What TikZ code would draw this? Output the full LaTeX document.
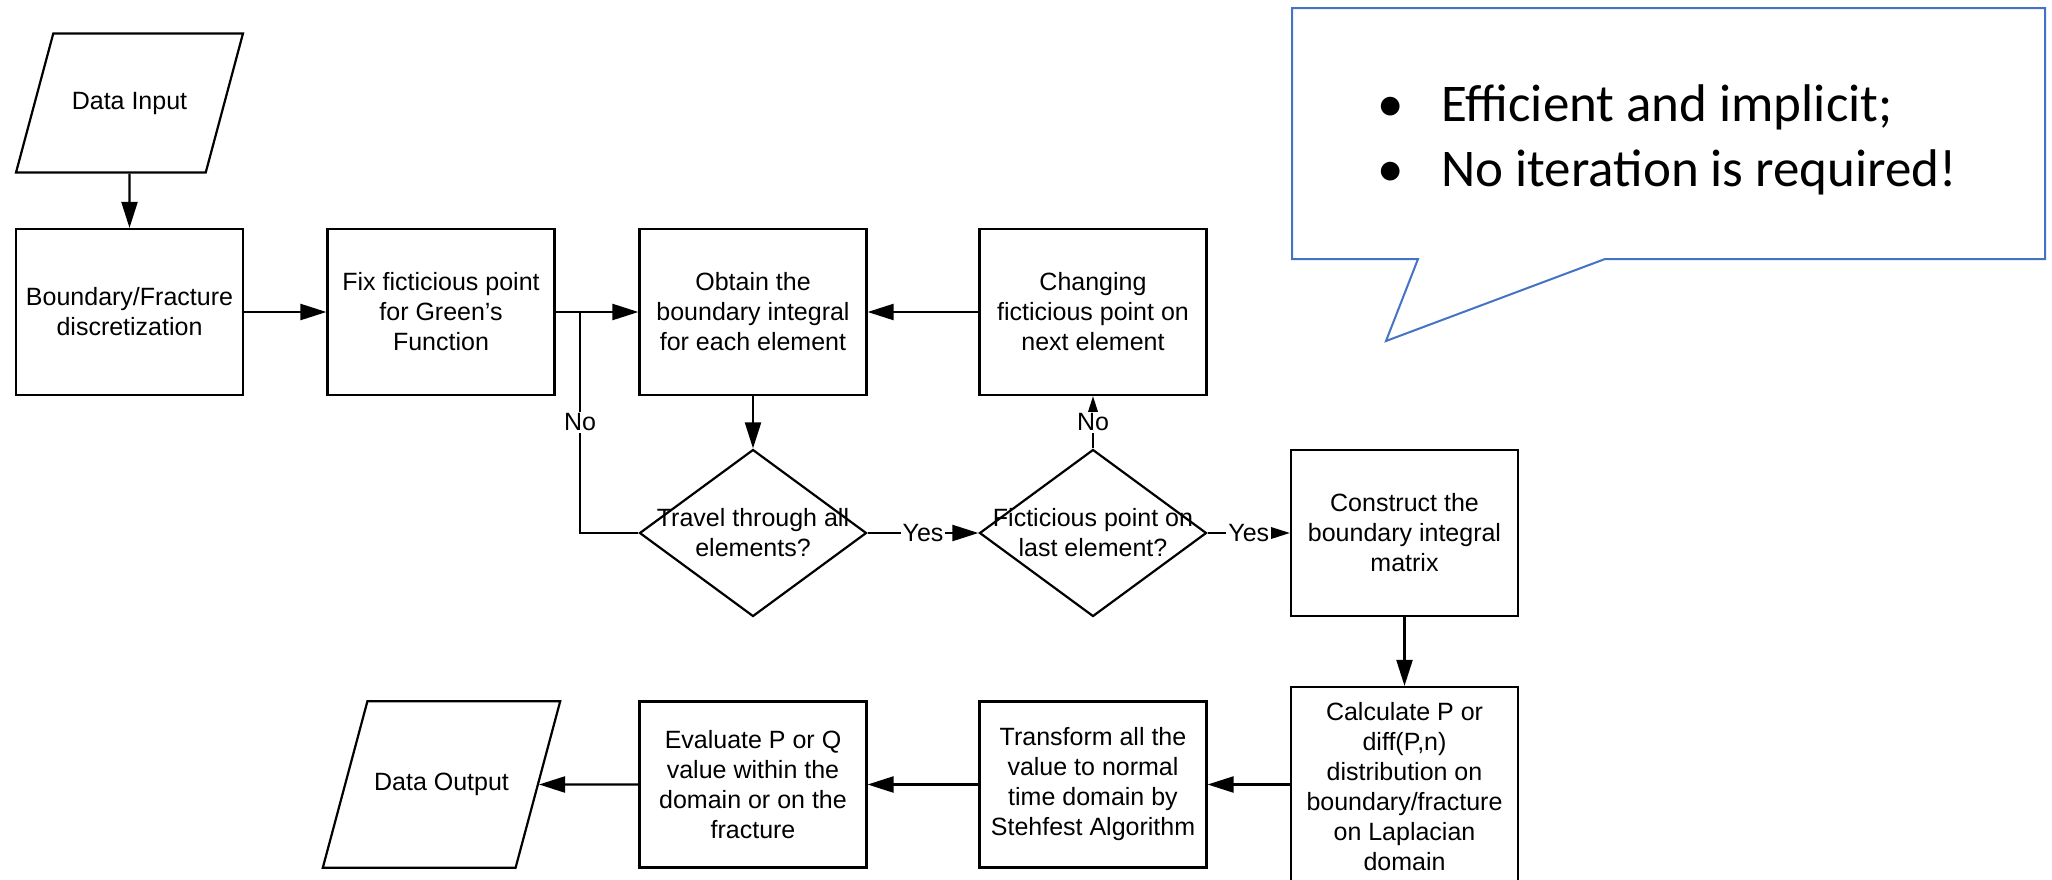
\documentclass[tikz,border=0pt]{standalone}
\usepackage{fontspec}
\setmainfont{Liberation Sans}
\newfontfamily\notefont{Carlito}
\usetikzlibrary{positioning,arrows.meta,shapes.geometric}
\definecolor{noteblue}{RGB}{68,114,196}
\tikzset{
  flowarrow/.style={-{Triangle[length=13pt,width=8pt]}, line width=1.1pt},
  flowline/.style={line width=1.1pt},
  procbox/.style={draw, line width=1.1pt, minimum width=113.5pt, minimum height=83pt, align=center, inner sep=2pt},
  iobox/.style={draw, line width=1.1pt, trapezium, trapezium left angle=75, trapezium right angle=105, trapezium stretches body, minimum width=113.5pt, align=center},
  decision/.style={draw, line width=1.1pt, diamond, minimum width=113.5pt, minimum height=83.5pt, inner sep=0pt},
  answer/.style={fill=white, inner sep=1pt}
}

\begin{document}
\begin{tikzpicture}[x=0.5pt, y=-0.5pt, every node/.style={font=\fontsize{12.5pt}{15pt}\selectfont}]
  \useasboundingbox (0,0) rectangle (2052,879);
  \node[iobox, inner ysep=29.2pt] (datain) at (129.5,103) {Data Input};
  \node[procbox] (discr) at (129.5,312) {Boundary/Fracture\\discretization};
  \node[procbox] (fixpt) at (441,312) {Fix ficticious point\\for Green's\\Function};
  \node[procbox] (obtain) at (753,312) {Obtain the\\boundary integral\\for each element};
  \node[procbox] (change) at (1093,312) {Changing\\ficticious point on\\next element};
  \node[decision] (travel) at (753,533) {};
  \node[align=center] (travel-txt) at (travel) {Travel through all\\elements?};
  \node[decision] (lastq) at (1093,533) {};
  \node[align=center] (lastq-txt) at (lastq) {Ficticious point on\\last element?};
  \node[procbox] (construct) at (1404.5,533) {Construct the\\boundary integral\\matrix};
  \node[procbox, minimum height=100pt] (calc) at (1404.5,787) {Calculate P or\\diff(P,n)\\distribution on\\boundary/fracture\\on Laplacian\\domain};
  \node[procbox] (transform) at (1093,784.5) {Transform all the\\value to normal\\time domain by\\Stehfest Algorithm};
  \node[procbox] (evaluate) at (753,784.5) {Evaluate P or Q\\value within the\\domain or on the\\fracture};
  \node[iobox, inner ysep=36pt] (dataout) at (441.5,784.5) {Data Output};
  \coordinate (loopin) at (580,312);

  \draw[flowarrow] (datain) -- (discr);
  \draw[flowarrow] (discr) -- (fixpt);
  \draw[flowarrow] (fixpt) -- (obtain);
  \draw[flowarrow] (change) -- (obtain);
  \draw[flowarrow] (obtain) -- (travel);
  \draw[flowline] (travel.west) -| node[answer, pos=0.75] {No} (loopin);
  \draw[flowarrow] (travel) -- node[answer] {Yes} (lastq);
  \draw[flowarrow] (lastq) -- node[answer] {No} (change);
  \draw[flowarrow] (lastq) -- node[answer] {Yes} (construct);
  \draw[flowarrow] (construct) -- (calc);
  \draw[flowarrow] (transform -| calc.west) -- (transform);
  \draw[flowarrow] (transform) -- (evaluate);
  \draw[flowarrow] (evaluate) -- (dataout);

  \draw[noteblue, line width=1pt] (1292,8) -- (2045,8) -- (2045,259) -- (1605,259) -- (1386,341) -- (1418,259) -- (1292,259) -- cycle;
  \node[anchor=west, align=left, inner sep=0pt, font=\notefont\fontsize{26.5pt}{32.5pt}\selectfont] (note) at (1377,140) {\makebox[32pt][l]{\textbullet}Efficient and implicit;\\\makebox[32pt][l]{\textbullet}No iteration is required!};
\end{tikzpicture}
\end{document}
